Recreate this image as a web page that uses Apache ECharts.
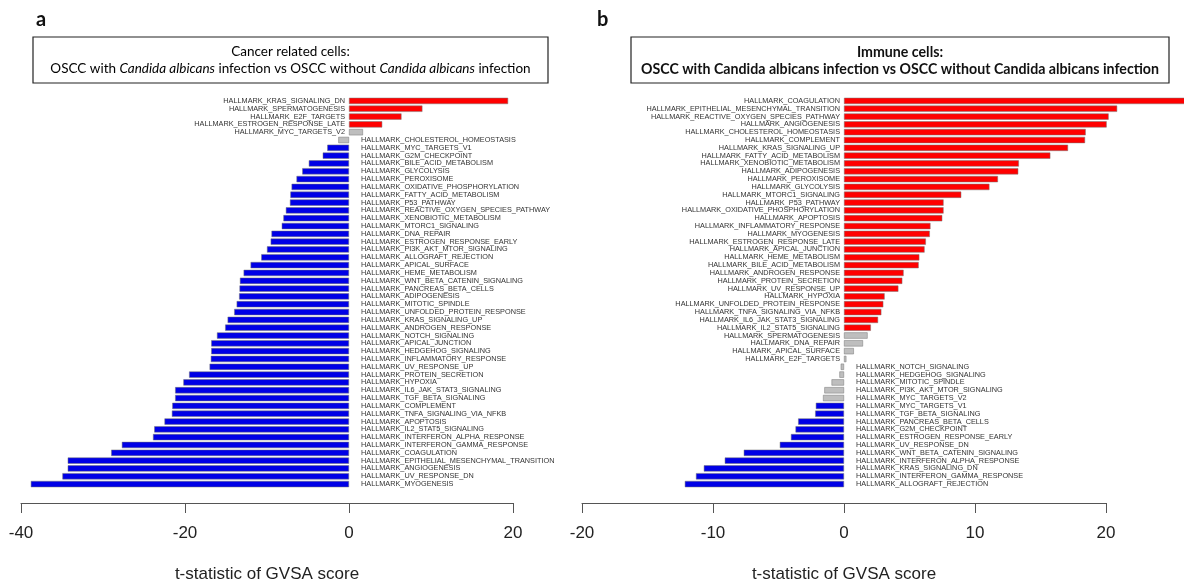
<!DOCTYPE html>
<html>
<head>
<meta charset="utf-8">
<title>GSVA hallmark t-statistics</title>
<script src="https://cdn.jsdelivr.net/npm/echarts@6.0.0/dist/echarts.min.js"></script>
<style>
  html, body { margin: 0; padding: 0; background: #fff; }
  #chart { width: 1184px; height: 588px; }
</style>
</head>
<body>
<div id="chart"></div>
<script>
// panel a: cancer related cells (top to bottom)
const cancerNames = [
  'KRAS_SIGNALING_DN', 'SPERMATOGENESIS', 'E2F_TARGETS', 'ESTROGEN_RESPONSE_LATE', 'MYC_TARGETS_V2',
  'CHOLESTEROL_HOMEOSTASIS', 'MYC_TARGETS_V1', 'G2M_CHECKPOINT', 'BILE_ACID_METABOLISM', 'GLYCOLYSIS',
  'PEROXISOME', 'OXIDATIVE_PHOSPHORYLATION', 'FATTY_ACID_METABOLISM', 'P53_PATHWAY', 'REACTIVE_OXYGEN_SPECIES_PATHWAY',
  'XENOBIOTIC_METABOLISM', 'MTORC1_SIGNALING', 'DNA_REPAIR', 'ESTROGEN_RESPONSE_EARLY', 'PI3K_AKT_MTOR_SIGNALING',
  'ALLOGRAFT_REJECTION', 'APICAL_SURFACE', 'HEME_METABOLISM', 'WNT_BETA_CATENIN_SIGNALING', 'PANCREAS_BETA_CELLS',
  'ADIPOGENESIS', 'MITOTIC_SPINDLE', 'UNFOLDED_PROTEIN_RESPONSE', 'KRAS_SIGNALING_UP', 'ANDROGEN_RESPONSE',
  'NOTCH_SIGNALING', 'APICAL_JUNCTION', 'HEDGEHOG_SIGNALING', 'INFLAMMATORY_RESPONSE', 'UV_RESPONSE_UP',
  'PROTEIN_SECRETION', 'HYPOXIA', 'IL6_JAK_STAT3_SIGNALING', 'TGF_BETA_SIGNALING', 'COMPLEMENT',
  'TNFA_SIGNALING_VIA_NFKB', 'APOPTOSIS', 'IL2_STAT5_SIGNALING', 'INTERFERON_ALPHA_RESPONSE', 'INTERFERON_GAMMA_RESPONSE',
  'COAGULATION', 'EPITHELIAL_MESENCHYMAL_TRANSITION', 'ANGIOGENESIS', 'UV_RESPONSE_DN', 'MYOGENESIS'
];
const cancerValues = [
  19.4, 8.95, 6.4, 4.05, 1.7,
  -1.3, -2.65, -3.2, -4.9, -5.7,
  -6.4, -7.0, -7.15, -7.2, -7.7,
  -8.0, -8.2, -9.45, -9.55, -10.0,
  -10.7, -12.0, -12.85, -13.3, -13.35,
  -13.4, -13.7, -14.0, -14.8, -15.1,
  -16.1, -16.8, -16.8, -16.85, -17.0,
  -19.5, -20.2, -21.2, -21.2, -21.55,
  -21.6, -22.5, -23.75, -23.9, -27.7,
  -29.0, -34.3, -34.3, -34.95, -38.8
];

// panel b: immune cells (top to bottom)
const immuneNames = [
  'COAGULATION', 'EPITHELIAL_MESENCHYMAL_TRANSITION', 'REACTIVE_OXYGEN_SPECIES_PATHWAY', 'ANGIOGENESIS', 'CHOLESTEROL_HOMEOSTASIS',
  'COMPLEMENT', 'KRAS_SIGNALING_UP', 'FATTY_ACID_METABOLISM', 'XENOBIOTIC_METABOLISM', 'ADIPOGENESIS',
  'PEROXISOME', 'GLYCOLYSIS', 'MTORC1_SIGNALING', 'P53_PATHWAY', 'OXIDATIVE_PHOSPHORYLATION',
  'APOPTOSIS', 'INFLAMMATORY_RESPONSE', 'MYOGENESIS', 'ESTROGEN_RESPONSE_LATE', 'APICAL_JUNCTION',
  'HEME_METABOLISM', 'BILE_ACID_METABOLISM', 'ANDROGEN_RESPONSE', 'PROTEIN_SECRETION', 'UV_RESPONSE_UP',
  'HYPOXIA', 'UNFOLDED_PROTEIN_RESPONSE', 'TNFA_SIGNALING_VIA_NFKB', 'IL6_JAK_STAT3_SIGNALING', 'IL2_STAT5_SIGNALING',
  'SPERMATOGENESIS', 'DNA_REPAIR', 'APICAL_SURFACE', 'E2F_TARGETS', 'NOTCH_SIGNALING',
  'HEDGEHOG_SIGNALING', 'MITOTIC_SPINDLE', 'PI3K_AKT_MTOR_SIGNALING', 'MYC_TARGETS_V2', 'MYC_TARGETS_V1',
  'TGF_BETA_SIGNALING', 'PANCREAS_BETA_CELLS', 'G2M_CHECKPOINT', 'ESTROGEN_RESPONSE_EARLY', 'UV_RESPONSE_DN',
  'WNT_BETA_CATENIN_SIGNALING', 'INTERFERON_ALPHA_RESPONSE', 'KRAS_SIGNALING_DN', 'INTERFERON_GAMMA_RESPONSE', 'ALLOGRAFT_REJECTION'
];
const immuneValues = [
  27.0, 20.85, 20.2, 20.05, 18.45,
  18.4, 17.1, 15.75, 13.35, 13.3,
  11.75, 11.1, 8.95, 7.6, 7.6,
  7.5, 6.6, 6.55, 6.25, 6.15,
  5.75, 5.7, 4.55, 4.45, 4.15,
  3.1, 3.0, 2.85, 2.6, 2.05,
  1.8, 1.45, 0.75, 0.18, -0.25,
  -0.35, -0.95, -1.5, -1.6, -2.15,
  -2.2, -3.5, -3.7, -4.05, -4.9,
  -7.65, -9.1, -10.7, -11.3, -12.15
];

const cancerTicks = { min: -40, max: 20, interval: 20 };
const immuneTicks = { min: -20, max: 20, interval: 10 };

const RED = '#ff0000';
const BLUE = '#0000e6';
const GREY = '#bebebe';
const LABEL_FONT = 'Liberation Sans, Arial, sans-serif';

function barData(values) {
  return values.map(v => ({
    value: v,
    itemStyle: { color: Math.abs(v) < 1.95 ? GREY : (v > 0 ? RED : BLUE) },
    label: { position: v >= 0 ? 'left' : 'right', distance: v >= 0 ? 4 : 12 }
  }));
}

function xAxisFor(gridIndex, ticks) {
  return {
    gridIndex,
    type: 'value',
    min: ticks.min,
    max: ticks.max,
    interval: ticks.interval,
    position: 'bottom',
    offset: 15,
    splitLine: { show: false },
    axisLine: { show: true, lineStyle: { color: '#555', width: 1 } },
    axisTick: { show: true, length: 10, lineStyle: { color: '#555', width: 1 } },
    axisLabel: { fontSize: 17, color: '#222', margin: 22, fontFamily: LABEL_FONT },
    name: 't-statistic of GVSA score',
    nameLocation: 'middle',
    nameGap: 63,
    nameTextStyle: { fontSize: 17, color: '#222', fontFamily: LABEL_FONT }
  };
}

function yAxisFor(gridIndex, names) {
  return {
    gridIndex,
    type: 'category',
    inverse: true,
    data: names,
    show: false
  };
}

function barSeries(idx, values) {
  return {
    type: 'bar',
    xAxisIndex: idx,
    yAxisIndex: idx,
    barCategoryGap: '20%',
    clip: false,
    data: barData(values),
    itemStyle: { borderColor: '#777', borderWidth: 0.5 },
    label: {
      show: true,
      formatter: p => 'HALLMARK_' + p.name,
      fontSize: 7.3,
      color: '#333',
      fontFamily: LABEL_FONT
    },
    emphasis: { disabled: true },
    animation: false
  };
}

const titleFont = 'Lato, "Open Sans", sans-serif';

const option = {
  backgroundColor: '#fff',
  animation: false,
  grid: [
    { left: 21, width: 492, top: 97, height: 394.5 },
    { left: 582, width: 524, top: 97, height: 394.5 }
  ],
  xAxis: [xAxisFor(0, cancerTicks), xAxisFor(1, immuneTicks)],
  yAxis: [yAxisFor(0, cancerNames), yAxisFor(1, immuneNames)],
  series: [barSeries(0, cancerValues), barSeries(1, immuneValues)],
  graphic: [
    { type: 'text', x: 36, y: 20, style: { text: 'a', fontSize: 20, fontWeight: 'bold', fontFamily: titleFont, fill: '#111', textVerticalAlign: 'middle' } },
    { type: 'text', x: 597, y: 20, style: { text: 'b', fontSize: 20, fontWeight: 'bold', fontFamily: titleFont, fill: '#111', textVerticalAlign: 'middle' } },
    { type: 'rect', shape: { x: 33, y: 37, width: 515, height: 46 }, style: { fill: 'none', stroke: '#222', lineWidth: 1.2 } },
    { type: 'rect', shape: { x: 631, y: 37, width: 538, height: 46 }, style: { fill: 'none', stroke: '#222', lineWidth: 1.2 } },
    { type: 'text', x: 290.5, y: 52, style: { text: 'Cancer related cells:', fontSize: 13.5, fontFamily: titleFont, fill: '#000', textAlign: 'center', textVerticalAlign: 'middle' } },
    { type: 'text', x: 290.5, y: 69, style: {
        text: 'OSCC with {i|Candida albicans} infection vs OSCC without {i|Candida albicans} infection',
        fontSize: 13.5, fontFamily: titleFont, fill: '#000', textAlign: 'center', textVerticalAlign: 'middle',
        rich: { i: { fontStyle: 'italic', fontSize: 13.5, fontFamily: titleFont, fill: '#000' } }
      } },
    { type: 'text', x: 900, y: 52, style: { text: 'Immune cells:', fontSize: 14.2, fontWeight: 'bold', fontFamily: titleFont, fill: '#111', textAlign: 'center', textVerticalAlign: 'middle' } },
    { type: 'text', x: 900, y: 69, style: { text: 'OSCC with Candida albicans infection vs OSCC without Candida albicans infection', fontSize: 14.2, fontWeight: 'bold', fontFamily: titleFont, fill: '#111', textAlign: 'center', textVerticalAlign: 'middle' } }
  ]
};

const myChart = echarts.init(document.getElementById('chart'), null, { renderer: 'canvas' });
myChart.setOption(option);
</script>
</body>
</html>
